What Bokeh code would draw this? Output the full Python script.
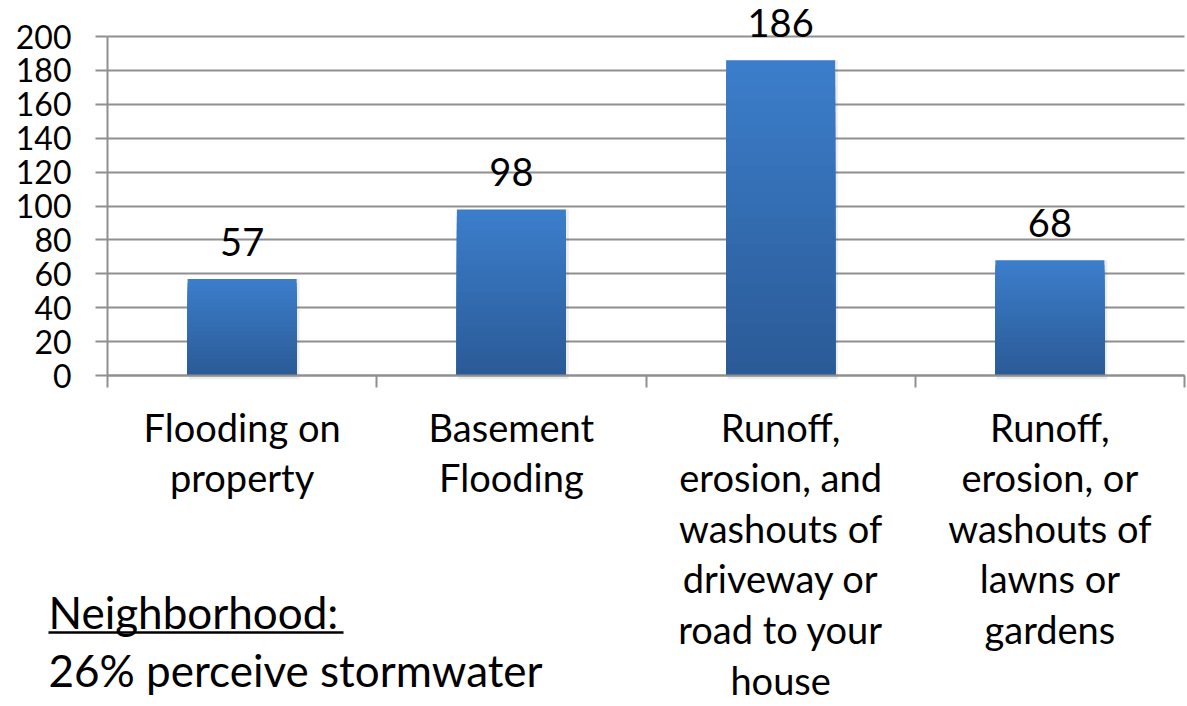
from bokeh.plotting import figure
from bokeh.models import Range1d, FixedTicker, ColumnDataSource
from bokeh.core.properties import value
from bokeh.embed import file_html
from bokeh.resources import INLINE

categories = [
    "Flooding on\nproperty",
    "Basement\nFlooding",
    "Runoff,\nerosion, and\nwashouts of\ndriveway or\nroad to your\nhouse",
    "Runoff,\nerosion, or\nwashouts of\nlawns or\ngardens",
]
counts = [57, 98, 186, 68]
y_ticks = [0, 20, 40, 60, 80, 100, 120, 140, 160, 180, 200]
note_title = "Neighborhood:"
note_text = "26% perceive stormwater"

FONT = "Lato"
GREY = "#8f8f8f"
n = len(categories)
xs = [i + 0.5 for i in range(n)]

# frame covers the whole canvas; axes are pinned with fixed_location
PX_X = 269.25      # pixels per category
PX_Y = 339 / 200   # pixels per unit
x0 = -107 / PX_X
y1 = 375 / PX_Y
p = figure(width=1187, height=706, output_backend="svg", toolbar_location=None,
           x_range=Range1d(x0, x0 + 1187 / PX_X), y_range=Range1d(y1 - 706 / PX_Y, y1),
           min_border=0)
p.outline_line_color = None
p.background_fill_color = "white"
p.border_fill_color = "white"

# soft shadow
p.vbar(x=[x + 0.008 for x in xs], top=counts, bottom=-2.2, width=0.41,
       fill_color="black", fill_alpha=0.07, line_color=None)

# gradient bars (top lighter, bottom darker) built by layering
top_c = (59, 125, 202)
bot_c = (43, 91, 151)
N = 24
for k in range(N):
    f = 1 - k / N
    t = k / (N - 1)
    c = tuple(int(round(top_c[j] + (bot_c[j] - top_c[j]) * t)) for j in range(3))
    col = "#%02x%02x%02x" % c
    src = ColumnDataSource(dict(x=xs, top=[v * f for v in counts]))
    p.vbar(x="x", top="top", bottom=0, width=0.405, source=src,
           fill_color=col, line_color=None)

# value labels
lsrc = ColumnDataSource(dict(x=xs, y=counts, t=[str(v) for v in counts]))
p.text(x="x", y="y", text="t", source=lsrc, text_align="center", text_baseline="alphabetic",
       y_offset=-37, text_font=value(FONT), text_font_size="38px", text_color="black")

# grid
p.xgrid.grid_line_color = None
p.ygrid.grid_line_color = GREY
p.ygrid.grid_line_width = 2
p.ygrid.ticker = FixedTicker(ticks=y_ticks)
p.ygrid.cross_bounds = (0, n)
p.ygrid.bounds = (0, 200)

# y axis
ya = p.yaxis[0]
ya.fixed_location = 0
ya.ticker = FixedTicker(ticks=y_ticks)
ya.bounds = (0, 200)
ya.axis_line_color = GREY
ya.axis_line_width = 2
ya.major_tick_line_color = GREY
ya.major_tick_line_width = 2
ya.major_tick_out = 12
ya.major_tick_in = 0
ya.minor_tick_line_color = None
ya.major_label_text_font = FONT
ya.major_label_text_font_size = "32px"
ya.major_label_text_color = "black"
ya.major_label_standoff = 24

# x axis
xa = p.xaxis[0]
xa.fixed_location = 0
xa.bounds = (0, n)
xa.ticker = FixedTicker(ticks=xs, minor_ticks=list(range(n + 1)))
xa.major_label_overrides = {x: c for x, c in zip(xs, categories)}
xa.axis_line_color = GREY
xa.axis_line_width = 2
xa.major_tick_line_color = None
xa.minor_tick_line_color = GREY
xa.minor_tick_line_width = 2
xa.minor_tick_out = 12
xa.minor_tick_in = 0
xa.major_label_text_font = FONT
xa.major_label_text_font_size = "38px"
xa.major_label_text_line_height = 1.1
xa.major_label_text_color = "black"
xa.major_label_standoff = 16

# note (bottom-left)
nx = (48 - 107) / PX_X
p.text(x=[nx, nx], y=[(375 - 625) / PX_Y, (375 - 683) / PX_Y], text=[note_title, note_text],
       y_offset=-14, text_font=value(FONT), text_font_size="44px", text_color="black",
       text_align="left", text_baseline="alphabetic")
p.segment(x0=[nx], y0=[(375 - 632) / PX_Y], x1=[(343 - 107) / PX_X], y1=[(375 - 632) / PX_Y],
          line_color="black", line_width=2.5)

open("out.html", "w").write(file_html(p, INLINE))
